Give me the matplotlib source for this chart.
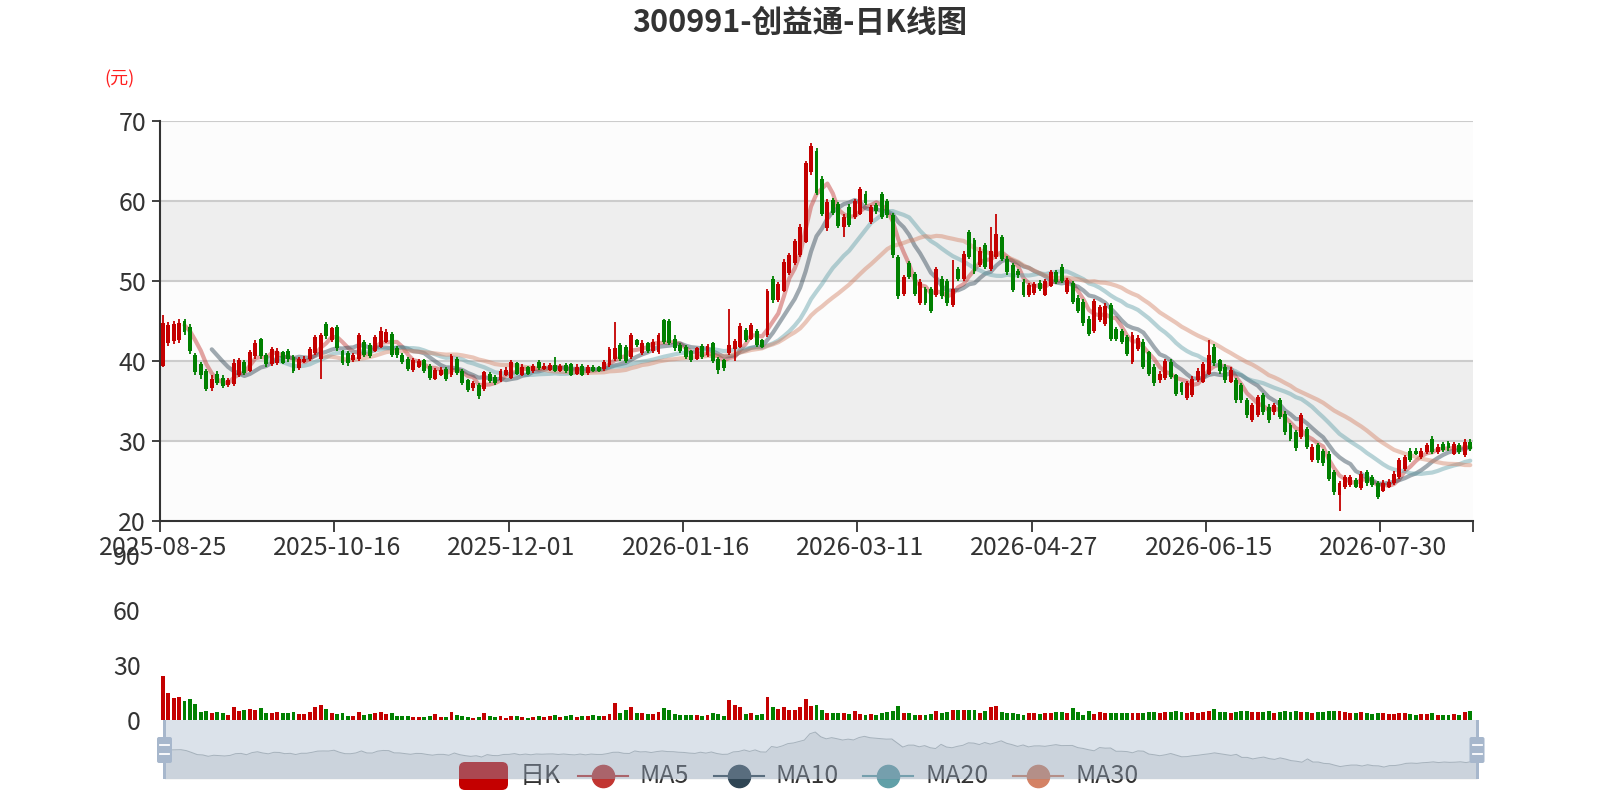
import matplotlib
matplotlib.use('Agg')
import matplotlib.pyplot as plt
import numpy as np
import pandas as pd
from matplotlib.patches import FancyBboxPatch, Rectangle

plt.rcParams['font.family'] = ['Noto Sans CJK SC', 'DejaVu Sans']

# ---- data ---------------------------------------------------------------
holidays = ['2025-10-01', '2025-10-02', '2025-10-03', '2025-10-06', '2025-10-07', '2025-10-08',
            '2026-01-01', '2026-01-02', '2026-02-16', '2026-02-17', '2026-02-18', '2026-02-19',
            '2026-02-20', '2026-02-23', '2026-04-06', '2026-05-01', '2026-05-04', '2026-05-05',
            '2026-06-19']

open_ = [39.4, 42.3, 42.5, 42.6, 45.0, 44.3, 40.8, 39.6, 38.8, 36.6,
         38.4, 37.9, 37.0, 37.1, 38.3, 39.9, 38.8, 40.6, 42.7, 40.8,
         39.6, 39.7, 41.1, 41.3, 40.5, 39.1, 39.9, 40.2, 41.0, 40.2,
         44.6, 42.6, 44.3, 41.2, 41.0, 40.1, 40.3, 42.4, 42.0, 41.3,
         41.8, 42.4, 43.4, 41.6, 40.7, 40.3, 38.9, 39.3, 40.1, 39.4,
         37.8, 38.3, 39.0, 38.2, 40.3, 38.8, 37.6, 36.6, 37.0, 36.5,
         38.4, 38.0, 37.6, 38.3, 37.9, 39.7, 38.3, 39.2, 38.7, 39.9,
         39.0, 38.9, 39.5, 38.8, 39.5, 39.6, 38.4, 39.4, 38.5, 39.3,
         39.2, 39.0, 39.5, 40.2, 42.0, 41.8, 40.5, 42.6, 41.0, 42.2,
         41.2, 41.1, 45.1, 45.0, 42.8, 42.0, 41.8, 41.2, 40.3, 41.9,
         40.7, 42.2, 40.3, 40.1, 41.0, 41.5, 41.8, 43.9, 42.8, 43.8,
         42.6, 43.2, 50.3, 47.6, 48.8, 51.0, 52.2, 53.2, 54.9, 63.6,
         66.3, 62.8, 56.6, 60.1, 59.6, 56.8, 59.3, 58.0, 58.4, 60.9,
         57.4, 59.5, 60.9, 60.0, 58.2, 53.0, 48.4, 52.2, 50.9, 47.2,
         49.0, 49.0, 48.2, 50.3, 50.0, 47.0, 51.5, 50.3, 56.1, 55.1,
         52.0, 54.5, 51.5, 53.0, 55.5, 52.8, 52.0, 51.2, 49.9, 48.3,
         48.5, 49.8, 48.3, 49.4, 51.1, 51.8, 48.6, 49.7, 47.9, 47.4,
         45.3, 43.7, 45.1, 44.6, 47.0, 44.0, 43.8, 43.0, 39.9, 41.5,
         42.4, 41.1, 39.3, 37.6, 37.9, 39.9, 38.2, 37.2, 35.4, 35.8,
         37.6, 37.4, 38.4, 41.8, 40.1, 39.3, 37.4, 37.6, 37.0, 35.1,
         32.6, 33.2, 35.7, 34.3, 33.6, 35.1, 33.4, 32.0, 31.1, 30.5,
         31.5, 27.6, 29.5, 28.8, 28.4, 26.1, 23.2, 24.3, 24.5, 25.1,
         24.1, 26.1, 25.5, 24.7, 23.8, 24.3, 24.7, 25.5, 26.5, 28.8,
         28.8, 28.0, 28.6, 30.3, 28.6, 29.6, 29.7, 28.4, 29.5, 28.2,
         29.9]

close = [44.8, 44.5, 44.6, 44.8, 43.6, 41.2, 38.6, 38.2, 36.5, 37.8,
         37.3, 36.9, 37.6, 39.8, 40.1, 38.5, 41.1, 42.2, 40.6, 39.6,
         41.5, 41.3, 39.8, 40.2, 38.7, 40.3, 40.3, 41.5, 43.0, 43.2,
         43.1, 44.1, 41.6, 39.8, 39.7, 40.7, 43.2, 40.7, 40.6, 43.0,
         43.8, 43.6, 40.8, 40.7, 39.9, 39.0, 40.1, 40.0, 38.8, 37.9,
         38.9, 38.9, 37.8, 40.6, 38.5, 37.3, 36.4, 37.2, 35.6, 38.6,
         37.5, 37.3, 38.8, 38.9, 39.9, 38.4, 39.3, 38.4, 39.4, 39.1,
         39.4, 39.5, 38.8, 39.4, 38.7, 38.3, 39.3, 38.3, 39.3, 38.8,
         38.8, 39.9, 41.5, 41.6, 40.2, 40.0, 43.2, 42.0, 42.3, 41.2,
         42.4, 43.2, 42.4, 42.3, 41.6, 41.3, 40.5, 40.1, 41.6, 40.5,
         41.9, 40.0, 38.9, 39.1, 42.0, 42.5, 44.4, 42.6, 44.5, 42.0,
         41.8, 48.8, 47.6, 49.6, 52.4, 53.2, 55.0, 56.8, 64.7, 66.9,
         61.0, 58.4, 59.9, 58.5, 56.9, 58.0, 57.0, 60.0, 61.5, 59.8,
         59.2, 58.7, 58.0, 58.2, 53.2, 48.1, 50.5, 50.5, 48.4, 49.9,
         47.3, 46.2, 51.5, 48.1, 47.2, 49.0, 50.3, 53.4, 53.0, 51.2,
         53.8, 51.8, 53.7, 55.9, 52.8, 51.1, 48.9, 50.7, 48.3, 49.5,
         49.6, 49.0, 50.0, 51.1, 49.9, 50.0, 50.1, 47.4, 46.3, 44.7,
         43.4, 47.5, 46.7, 46.9, 42.8, 42.8, 42.4, 40.9, 43.3, 42.9,
         39.3, 38.4, 37.2, 38.4, 40.0, 38.0, 35.9, 36.1, 37.2, 37.8,
         38.8, 39.6, 40.8, 39.7, 38.7, 37.6, 38.9, 35.1, 35.1, 33.2,
         34.5, 35.5, 33.6, 32.6, 34.5, 33.0, 31.1, 30.3, 29.1, 33.2,
         29.3, 29.3, 27.6, 27.2, 25.3, 23.6, 24.7, 25.5, 25.5, 24.3,
         25.9, 24.7, 24.5, 23.0, 24.8, 24.9, 25.9, 27.6, 28.0, 27.6,
         28.4, 28.8, 29.5, 28.6, 29.3, 28.9, 29.1, 29.6, 28.6, 29.9,
         29.0]

high = [45.7, 44.9, 45.0, 45.2, 45.3, 44.6, 41.0, 39.9, 39.0, 38.2,
        38.7, 38.2, 37.9, 40.2, 40.4, 40.1, 41.4, 42.6, 42.9, 41.0,
        41.8, 41.6, 41.3, 41.5, 40.7, 40.5, 40.6, 41.8, 43.3, 43.5,
        44.9, 44.3, 44.5, 41.4, 41.2, 41.0, 43.5, 42.6, 42.2, 43.3,
        44.2, 44.0, 43.6, 41.9, 41.0, 40.5, 40.4, 40.2, 40.3, 39.6,
        39.1, 39.2, 39.2, 40.9, 40.5, 39.0, 37.8, 37.5, 37.2, 38.8,
        38.6, 38.2, 39.0, 39.2, 40.1, 39.9, 39.6, 39.4, 39.6, 40.1,
        39.7, 39.8, 40.5, 39.6, 39.7, 39.8, 39.6, 39.6, 39.5, 39.5,
        39.4, 40.1, 41.8, 44.9, 42.3, 42.0, 43.5, 42.8, 42.6, 42.4,
        42.7, 43.5, 45.3, 45.2, 43.2, 42.2, 42.0, 41.4, 41.8, 42.1,
        42.1, 42.4, 40.5, 40.3, 46.5, 42.8, 44.7, 44.1, 44.8, 44.0,
        42.8, 49.0, 50.6, 49.9, 52.7, 53.5, 55.3, 57.1, 65.0, 67.2,
        66.6, 63.1, 60.2, 60.4, 59.9, 58.4, 59.6, 60.3, 61.8, 61.2,
        59.5, 59.8, 61.1, 60.3, 58.5, 53.3, 50.8, 52.5, 51.1, 50.2,
        49.3, 49.3, 51.8, 50.6, 50.3, 52.6, 51.8, 53.7, 56.4, 55.4,
        54.2, 54.8, 56.8, 58.4, 55.8, 53.1, 52.3, 51.5, 50.2, 49.8,
        49.9, 50.1, 50.3, 51.4, 51.4, 52.1, 50.4, 50.0, 48.2, 47.7,
        45.6, 47.8, 47.0, 47.2, 47.3, 44.3, 44.0, 43.2, 43.6, 43.2,
        42.7, 41.3, 39.6, 38.7, 40.3, 40.2, 38.4, 37.4, 37.5, 38.1,
        39.1, 39.9, 42.6, 42.1, 40.3, 39.6, 39.2, 37.9, 37.3, 35.4,
        34.8, 35.8, 36.0, 34.6, 34.8, 35.4, 33.7, 32.3, 31.4, 33.5,
        31.8, 29.6, 29.8, 29.0, 28.7, 26.4, 25.0, 25.8, 25.8, 25.4,
        26.2, 26.4, 25.8, 25.0, 25.1, 25.2, 26.2, 27.9, 28.3, 29.1,
        29.1, 29.1, 29.8, 30.6, 29.6, 29.9, 30.0, 29.9, 29.8, 30.2,
        30.2]

low = [39.2, 41.9, 42.1, 42.3, 43.2, 40.9, 38.2, 37.8, 36.2, 36.3,
       37.0, 36.6, 36.7, 36.9, 38.0, 38.2, 38.6, 40.3, 40.3, 39.3,
       39.4, 39.5, 39.6, 39.9, 38.5, 38.9, 39.7, 40.0, 40.8, 37.8,
       42.8, 42.4, 41.3, 39.5, 39.4, 39.9, 40.0, 40.5, 40.4, 41.1,
       41.6, 42.2, 40.5, 40.4, 39.6, 38.7, 38.6, 39.1, 38.5, 37.6,
       37.6, 38.1, 37.5, 38.0, 38.2, 37.0, 36.1, 36.3, 35.2, 36.3,
       37.2, 37.0, 37.4, 38.1, 37.7, 38.2, 38.1, 38.2, 38.5, 38.9,
       38.9, 38.7, 38.6, 38.6, 38.5, 38.1, 38.2, 38.1, 38.3, 38.6,
       38.6, 38.8, 39.3, 40.0, 40.0, 39.8, 40.2, 41.7, 40.8, 41.0,
       41.0, 40.9, 42.1, 42.0, 41.3, 41.0, 40.3, 39.9, 40.1, 40.3,
       40.5, 39.7, 38.4, 38.7, 40.8, 40.0, 41.6, 42.4, 42.6, 41.8,
       41.6, 43.0, 47.3, 47.4, 48.6, 50.8, 52.0, 53.0, 54.7, 63.3,
       60.7, 58.1, 56.3, 58.2, 56.6, 55.5, 56.8, 57.7, 58.2, 59.5,
       57.1, 58.4, 57.7, 57.9, 52.9, 47.8, 48.1, 50.2, 48.1, 47.0,
       47.0, 46.0, 48.0, 47.8, 46.9, 46.8, 50.0, 50.0, 52.7, 50.9,
       51.7, 51.5, 51.3, 52.8, 52.5, 50.8, 48.6, 50.4, 48.0, 48.0,
       48.3, 48.8, 48.1, 49.2, 49.6, 49.8, 48.4, 47.1, 46.0, 44.4,
       43.1, 43.5, 44.9, 44.4, 42.5, 42.5, 42.1, 40.6, 39.6, 41.3,
       39.0, 38.1, 36.9, 37.3, 37.6, 37.8, 35.6, 35.8, 35.1, 35.5,
       37.4, 37.2, 38.2, 39.4, 38.4, 37.3, 37.2, 34.8, 34.8, 32.9,
       32.4, 33.0, 33.3, 32.3, 33.3, 32.7, 30.8, 30.0, 28.8, 30.3,
       29.0, 27.4, 27.3, 26.9, 25.0, 23.3, 21.3, 24.0, 24.3, 24.1,
       23.9, 24.4, 24.2, 22.8, 23.6, 24.1, 24.5, 25.3, 26.3, 27.4,
       28.2, 27.8, 28.4, 28.4, 28.4, 28.6, 28.8, 28.2, 28.4, 28.0,
       28.8]

volume = [24.0, 14.9, 11.8, 12.4, 10.4, 11.3, 8.7, 4.4, 4.9, 4.0,
          4.2, 4.0, 2.7, 6.9, 4.9, 5.5, 6.0, 5.3, 6.4, 4.0,
          4.0, 4.5, 3.8, 3.8, 4.4, 3.3, 3.1, 4.4, 7.1, 8.2,
          6.2, 3.6, 3.5, 4.0, 2.4, 2.2, 4.2, 2.5, 3.1, 3.8,
          4.2, 3.1, 3.8, 2.2, 2.2, 2.2, 1.5, 1.5, 1.6, 2.2,
          3.1, 1.5, 1.6, 4.2, 2.5, 2.2, 1.6, 1.3, 1.6, 3.8,
          2.2, 1.8, 2.0, 1.3, 2.2, 2.2, 1.6, 1.3, 1.8, 2.4,
          1.9, 2.2, 3.0, 1.8, 2.3, 2.7, 1.9, 2.1, 2.0, 2.5,
          2.2, 2.4, 3.5, 9.5, 4.0, 5.5, 6.9, 3.6, 3.6, 3.3,
          3.2, 4.5, 6.4, 5.5, 3.4, 3.0, 2.5, 2.7, 2.9, 2.4,
          2.6, 3.6, 3.2, 2.4, 11.0, 8.2, 7.3, 3.3, 4.0, 2.7,
          3.3, 12.5, 7.3, 5.8, 7.3, 5.5, 5.5, 7.3, 11.2, 7.6,
          8.2, 5.5, 4.0, 3.6, 4.0, 3.6, 3.3, 5.1, 3.3, 2.7,
          3.3, 2.7, 3.6, 4.5, 4.7, 7.6, 3.6, 4.0, 2.7, 3.0,
          2.7, 3.3, 5.1, 4.0, 4.5, 5.3, 5.5, 5.3, 5.5, 5.3,
          4.0, 5.0, 6.9, 7.6, 4.5, 4.0, 4.0, 3.3, 2.7, 3.6,
          3.6, 3.5, 3.6, 4.0, 4.5, 4.5, 4.0, 6.4, 4.5, 3.0,
          5.1, 3.2, 4.5, 4.0, 3.6, 4.0, 3.6, 4.0, 3.8, 3.6,
          4.0, 4.4, 4.6, 3.8, 4.2, 4.5, 4.8, 4.2, 3.9, 4.1,
          4.0, 4.3, 5.0, 6.0, 4.6, 4.4, 4.0, 4.5, 4.7, 5.0,
          4.2, 4.4, 4.6, 4.8, 4.0, 4.3, 4.9, 4.5, 4.7, 4.4,
          4.6, 4.0, 4.3, 4.5, 5.0, 4.8, 4.9, 4.2, 3.9, 3.8,
          4.2, 3.6, 3.5, 3.8, 3.7, 3.3, 3.5, 3.8, 3.6, 3.4,
          3.0, 3.2, 3.3, 3.6, 3.0, 2.8, 3.0, 3.3, 2.9, 4.5,
          5.0]

ma_windows = [5, 10, 20, 30]
ma_colors = ['#c23531', '#2f4554', '#61a0a8', '#d48265']
legend_names = ['日K', 'MA5', 'MA10', 'MA20', 'MA30']
up_color = '#c40000'
down_color = '#008000'

n = len(close)
dates = pd.bdate_range('2025-08-25', periods=n, freq='C', holidays=holidays)
x = np.arange(n)
o = np.array(open_)
c = np.array(close)
h = np.array(high)
l = np.array(low)
colors = [up_color if cc >= oo else down_color for oo, cc in zip(o, c)]

# ---- figure -------------------------------------------------------------
W, H = 1600, 800
fig = plt.figure(figsize=(16, 8), dpi=100)
fig.patch.set_facecolor('white')


def rect(left, top, right, bottom):
    return [left / W, 1 - bottom / H, (right - left) / W, (bottom - top) / H]


ax = fig.add_axes(rect(160, 121, 1473, 521))
axv = fig.add_axes(rect(160, 555, 1473, 720))
axs = fig.add_axes(rect(164.5, 720, 1477, 779))
canvas = fig.add_axes([0, 0, 1, 1])
top = fig.add_axes([0, 0, 1, 1])
for a in (canvas, top):
    a.set_xlim(0, W)
    a.set_ylim(H, 0)
    a.axis('off')
    a.patch.set_visible(False)
canvas.set_zorder(1)
axs.set_zorder(5)
top.set_zorder(6)

xlim = (-0.5, n - 0.5)

# main candlestick pane
band_colors = ['#fcfcfc', '#eeeeee']
for k, lo in enumerate(range(20, 70, 10)):
    ax.axhspan(lo, lo + 10, color=band_colors[k % 2], zorder=0, lw=0)
for yv in range(30, 71, 10):
    ax.axhline(yv, color='#cccccc', lw=1.5, zorder=1)

for w, col in zip(ma_windows, ma_colors):
    ma = pd.Series(c).rolling(w).mean()
    ax.plot(x, ma, color=col, lw=3, alpha=0.45, zorder=2, solid_capstyle='round')

ax.vlines(x, l, h, colors=colors, lw=1.3, zorder=3)
body_lo = np.minimum(o, c)
body_h = np.maximum(np.abs(c - o), 0.15)
ax.bar(x, body_h, bottom=body_lo, width=0.72, color=colors, zorder=4, lw=0)

ax.set_xlim(*xlim)
ax.set_ylim(20, 70)
ax.set_yticks(range(20, 71, 10))
tick_idx = list(range(0, n, 32))
ax.set_xticks(tick_idx)
ax.set_xticklabels([dates[i].strftime('%Y-%m-%d') for i in tick_idx])
ax.set_xticks([i - 0.5 for i in tick_idx] + [n - 0.5], minor=True)
for s in ('top', 'right'):
    ax.spines[s].set_visible(False)
for s in ('left', 'bottom'):
    ax.spines[s].set_color('#333333')
    ax.spines[s].set_linewidth(1.5)
ax.tick_params(axis='both', labelsize=18, colors='#333333', length=6, width=1.3, pad=4)
ax.tick_params(axis='x', which='major', length=0, pad=10)
ax.tick_params(axis='x', which='minor', length=8, width=1.3, colors='#333333')

# volume pane
axv.bar(x, volume, width=0.72, color=colors, lw=0)
axv.set_xlim(*xlim)
axv.set_ylim(0, 90)
axv.set_yticks([0, 30, 60, 90])
axv.set_xticks([])
for s in axv.spines.values():
    s.set_visible(False)
axv.patch.set_visible(False)
axv.tick_params(axis='y', labelsize=18, colors='#333333', length=0, pad=14)

# data zoom slider
axs.set_xlim(0, n - 1)
axs.set_ylim(8, 82)
axs.patch.set_facecolor((167 / 255, 183 / 255, 204 / 255, 0.4))
axs.fill_between(x, c, 8, color='#2f4554', alpha=0.09, lw=0)
axs.plot(x, c, color='#2f4554', lw=0.7, alpha=0.3)
axs.set_xticks([])
axs.set_yticks([])
for s in axs.spines.values():
    s.set_visible(False)

for hx in (164.5, 1477):
    top.add_patch(Rectangle((hx - 1.5, 720), 3, 59, color='#a7b7cc', lw=0))
    top.add_patch(FancyBboxPatch((hx - 7.5, 737), 15, 26, boxstyle='round,pad=0,rounding_size=2',
                                 color='#a7b7cc', lw=0))
    for hy in (745, 754):
        top.plot([hx - 4.5, hx + 4.5], [hy, hy], color='white', lw=1.3)

# title and unit
canvas.text(800, 23, '300991-创益通-日K线图', ha='center', va='center',
            fontsize=22, fontweight='bold', color='#333333')
canvas.text(120, 79, '(元)', ha='center', va='center', fontsize=13, color='#ff2020')

# legend (partly under the slider, as in the source)
ly = 776
canvas.add_patch(FancyBboxPatch((459, 762), 49, 28, boxstyle='round,pad=0,rounding_size=6',
                                color=up_color, lw=0))
canvas.text(520, ly, legend_names[0], ha='left', va='center', fontsize=18, color='#333333')
item_x = [578, 714, 863, 1013]
for name, col, lx in zip(legend_names[1:], ma_colors, item_x):
    canvas.plot([lx, lx + 50], [ly, ly], color=col, lw=1.5)
    canvas.plot([lx + 25], [ly], 'o', color=col, markersize=16)
    canvas.text(lx + 62, ly, name, ha='left', va='center', fontsize=18, color='#333333')

fig.savefig('out.png', dpi=100)
